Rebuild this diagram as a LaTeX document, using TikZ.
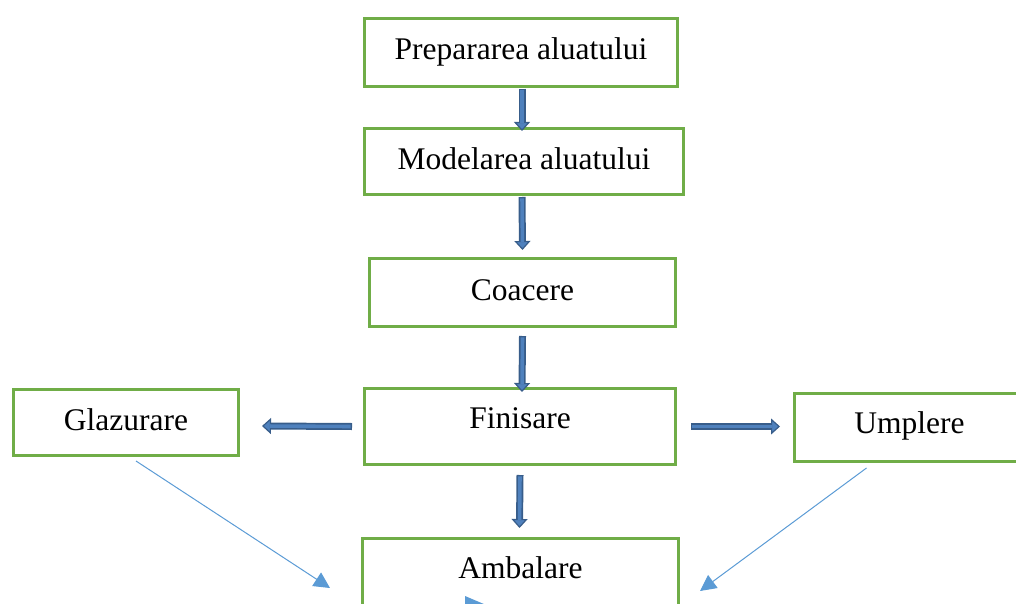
\documentclass[tikz,border=0pt]{standalone}
\usepackage{fontspec}
\setmainfont{Liberation Serif}
\usetikzlibrary{arrows.meta}
\definecolor{stepgreen}{HTML}{70AD47}
\definecolor{blkfill}{HTML}{4F81BD}
\definecolor{blkedge}{HTML}{385D8A}
\definecolor{thinblue}{HTML}{5B9BD5}
\begin{document}
\begin{tikzpicture}[x=1pt, y=-1pt,
  box/.style={draw=stepgreen, line width=3pt, fill=white, inner sep=0pt,
    font=\fontsize{31.5}{38}\selectfont, text height=22pt, text depth=7pt},
  up/.style={text depth=18pt, text height=22pt},
  blk/.style={draw=blkedge, line width=7pt,
    -{Triangle[length=9pt, width=16pt, line width=1.2pt, fill=blkfill]},
    postaction={draw=blkfill, line width=3.6pt, -, shorten >=8pt, shorten <=1.4pt}},
  thin/.style={draw=thinblue, line width=1pt, -{Triangle[length=16pt, width=16pt]}}]
  \useasboundingbox (0,0) rectangle (1016,604);
  \clip (0,0) rectangle (1016,604);
  % ---------- boxes ----------
  \node[box, minimum width=313pt, minimum height=68pt] (prep) at (521,52.5) {Prepararea aluatului};
  \node[box, minimum width=319pt, minimum height=66pt] (model) at (524,161.5) {Modelarea aluatului};
  \node[box, minimum width=306pt, minimum height=68pt] (coac) at (522.5,292.5) {Coacere};
  \node[box, up, minimum width=311pt, minimum height=76pt] (fin) at (520,426.5) {Finisare};
  \node[box, minimum width=225pt, minimum height=66pt] (glaz) at (126,422.5) {Glazurare};
  \node[box, minimum width=230pt, minimum height=68pt, text depth=10pt] (umpl) at (909.5,427.5) {Umplere};
  \node[box, up, minimum width=316pt, minimum height=76pt] (amb) at (520.5,576.5) {Ambalare};
  % ---------- block arrows ----------
  \draw[blk] ([xshift=1pt, yshift=-1pt]prep.south) -- ([xshift=-2pt, yshift=-4pt]model.north);
  \draw[blk] ([xshift=-2pt, yshift=-1pt]model.south) -- ([yshift=7pt]coac.north);
  \draw[blk] ([yshift=-8pt]coac.south) -- ([xshift=2pt, yshift=-5pt]fin.north);
  \draw[blk] ([yshift=-9pt]fin.south) -- ([xshift=-1pt, yshift=9pt]amb.north);
  \draw[blk] ([xshift=-11pt]fin.west) -- ([xshift=22pt, yshift=-3.5pt]glaz.east);
  \draw[blk] ([xshift=14pt]fin.east) -- ([xshift=-13pt, yshift=1pt]umpl.west);
  % ---------- thin arrows ----------
  \coordinate (glazend) at (330,588);
  \coordinate (umplend) at (700,591);
  \draw[thin] ([xshift=10pt, yshift=-4pt]glaz.south) -- (glazend);
  \draw[thin] ([xshift=-43pt, yshift=-5pt]umpl.south) -- (umplend);
  \fill[thinblue] (465,596) -- (485,604.5) -- (465,613) -- cycle;
\end{tikzpicture}
\end{document}
